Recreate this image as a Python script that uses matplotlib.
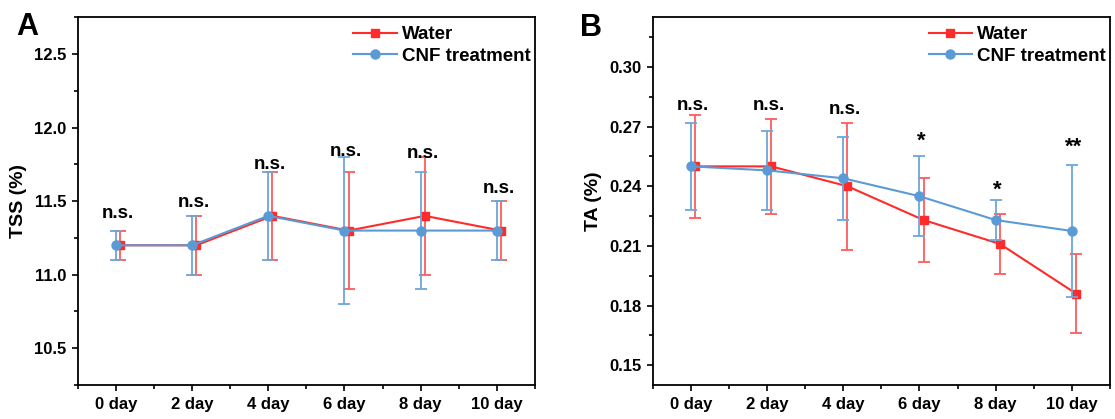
import numpy as np
import matplotlib
matplotlib.use("Agg")
import matplotlib.pyplot as plt
from matplotlib.lines import Line2D
from matplotlib.ticker import MultipleLocator, FormatStrFormatter

plt.rcParams['font.family'] = ['Liberation Sans', 'DejaVu Sans']
plt.rcParams['font.weight'] = 'bold'
plt.rcParams['axes.labelweight'] = 'bold'

# sampling days and labels
days = [0, 2, 4, 6, 8, 10]
day_labels = ['0 day', '2 day', '4 day', '6 day', '8 day', '10 day']

# panel A: TSS (%)
tss_water = [11.2, 11.2, 11.4, 11.3, 11.4, 11.3]
tss_water_err = [0.1, 0.2, 0.3, 0.4, 0.4, 0.2]
tss_cnf = [11.2, 11.2, 11.4, 11.3, 11.3, 11.3]
tss_cnf_err = [0.1, 0.2, 0.3, 0.5, 0.4, 0.2]
tss_sig = ['n.s.', 'n.s.', 'n.s.', 'n.s.', 'n.s.', 'n.s.']

# panel B: TA (%)
ta_water = [0.250, 0.250, 0.240, 0.223, 0.211, 0.186]
ta_water_err = [0.026, 0.024, 0.032, 0.021, 0.015, 0.020]
ta_cnf = [0.250, 0.248, 0.244, 0.235, 0.223, 0.2175]
ta_cnf_err = [0.022, 0.020, 0.021, 0.020, 0.010, 0.033]
ta_sig = ['n.s.', 'n.s.', 'n.s.', '*', '*', '**']

# where the significance marks sit (baseline, data units)
tss_sig_y = [11.385, 11.459, 11.718, 11.808, 11.795, 11.554]
ta_sig_y = [0.2784, 0.2784, 0.2762, 0.2601, 0.2353, 0.2568]

RED = '#FF2B2B'
RED_ERR = '#FF5C5C'
BLUE = '#5B9BD5'
BLUE_ERR = '#6DA6DB'
FS = 13.5

fig = plt.figure(figsize=(11.15, 4.19), dpi=100)
axA = fig.add_axes([0.0697, 0.0811, 0.4101, 0.8776])
axB = fig.add_axes([0.5854, 0.0811, 0.4101, 0.8776])


def draw_panel(ax, water, water_err, cnf, cnf_err, sig, sig_y, ylabel):
    x = np.array(days, dtype=float)
    ax.errorbar(x + 0.11, water, yerr=water_err, fmt='-s', color=RED, ecolor=RED_ERR,
                lw=1.5, elinewidth=1.3, capsize=4, capthick=1.3, ms=5.5, zorder=2)
    ax.errorbar(x, cnf, yerr=cnf_err, fmt='-o', color=BLUE, ecolor=BLUE_ERR,
                lw=1.5, elinewidth=1.3, capsize=4, capthick=1.3, ms=6.5, zorder=3)
    for xi, s, yi in zip(x, sig, sig_y):
        size = 16 if s.startswith('*') else FS
        ax.text(xi + 0.05, yi, s, ha='center', va='baseline', fontsize=size, fontweight='bold')
    ax.set_xlim(-1, 11)
    ax.set_xticks(days)
    ax.set_xticklabels(day_labels)
    ax.xaxis.set_minor_locator(MultipleLocator(1))
    ax.set_ylabel(ylabel, fontsize=14, labelpad=5)
    ax.tick_params(which='major', direction='out', length=4.3, width=1.2, labelsize=12, pad=4)
    ax.tick_params(which='minor', direction='out', length=2.6, width=1.2)
    ax.tick_params(top=False, right=False)
    for sp in ax.spines.values():
        sp.set_linewidth(1.3)
    handles = [Line2D([], [], color=RED, marker='s', ms=5.5, lw=1.5, label='Water'),
               Line2D([], [], color=BLUE, marker='o', ms=6.5, lw=1.5, label='CNF treatment')]
    ax.legend(handles=handles, loc='upper right', bbox_to_anchor=(1.02, 1.012), frameon=False,
              fontsize=FS, handlelength=2.3, handletextpad=0.3, labelspacing=0.25,
              borderaxespad=0.3)


draw_panel(axA, tss_water, tss_water_err, tss_cnf, tss_cnf_err, tss_sig, tss_sig_y, 'TSS (%)')
axA.set_ylim(10.25, 12.75)
axA.set_yticks([10.5, 11.0, 11.5, 12.0, 12.5])
axA.yaxis.set_major_formatter(FormatStrFormatter('%.1f'))
axA.yaxis.set_minor_locator(MultipleLocator(0.25))

draw_panel(axB, ta_water, ta_water_err, ta_cnf, ta_cnf_err, ta_sig, ta_sig_y, 'TA (%)')
axB.set_ylim(0.14, 0.325)
axB.set_yticks([0.15, 0.18, 0.21, 0.24, 0.27, 0.30])
axB.yaxis.set_major_formatter(FormatStrFormatter('%.2f'))
axB.yaxis.set_minor_locator(MultipleLocator(0.015))

fig.text(0.0143, 0.917, 'A', fontsize=22, fontweight='bold', va='baseline')
fig.text(0.520, 0.914, 'B', fontsize=22, fontweight='bold', va='baseline')

fig.savefig('out.png', dpi=100)
